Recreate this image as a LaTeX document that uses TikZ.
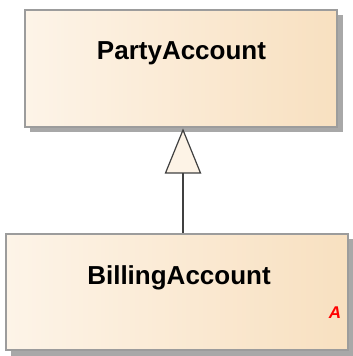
\documentclass[tikz,border=0pt]{standalone}
\usepackage{fontspec}
\setmainfont{Liberation Sans}
\begin{document}
\begin{tikzpicture}[x=1pt,y=1pt,
  classbox/.style={draw=boxborder, line width=1.5pt, left color=boxleft, right color=boxright, inner sep=0pt},
  title/.style={font=\bfseries\fontsize{26}{30}\selectfont, text=black, anchor=base, inner sep=0pt},
  gen/.style={draw=linegray, line width=1.5pt},
  gentip/.style={draw=linegray, line width=1.2pt, fill=tipfill, line join=miter}
]
\definecolor{boxleft}{HTML}{FDF4E8}
\definecolor{boxright}{HTML}{F8E0C0}
\definecolor{boxborder}{HTML}{9C9C9C}
\definecolor{shadowgray}{HTML}{A8A8A8}
\definecolor{linegray}{HTML}{404040}
\definecolor{tipfill}{HTML}{FDF3E6}
\useasboundingbox (0,0) rectangle (353,356);
% shadows
\fill[shadowgray] (30,224) rectangle (343,341);
\fill[shadowgray] (11,0) rectangle (353,117);
% boxes
\node[classbox, minimum width=312pt, minimum height=117pt] (pa) at (181,287.5) {};
\node[classbox, minimum width=342pt, minimum height=116pt] (ba) at (177,64) {};
% titles
\node[title] (patext) at (181.5,296.7) {PartyAccount};
\node[title] (batext) at (179,71.7) {BillingAccount};
\node[font=\bfseries\itshape\fontsize{17}{20}\selectfont, text=red, inner sep=0pt] (abs) at (335,43) {A};
% generalization
\coordinate (tip) at (183,226);
\coordinate (base) at (183,183);
\draw[gen] (ba.north -| base) -- (base);
\draw[gentip] (tip) -- (200.5,183) -- (165.5,183) -- cycle;
\end{tikzpicture}
\end{document}
